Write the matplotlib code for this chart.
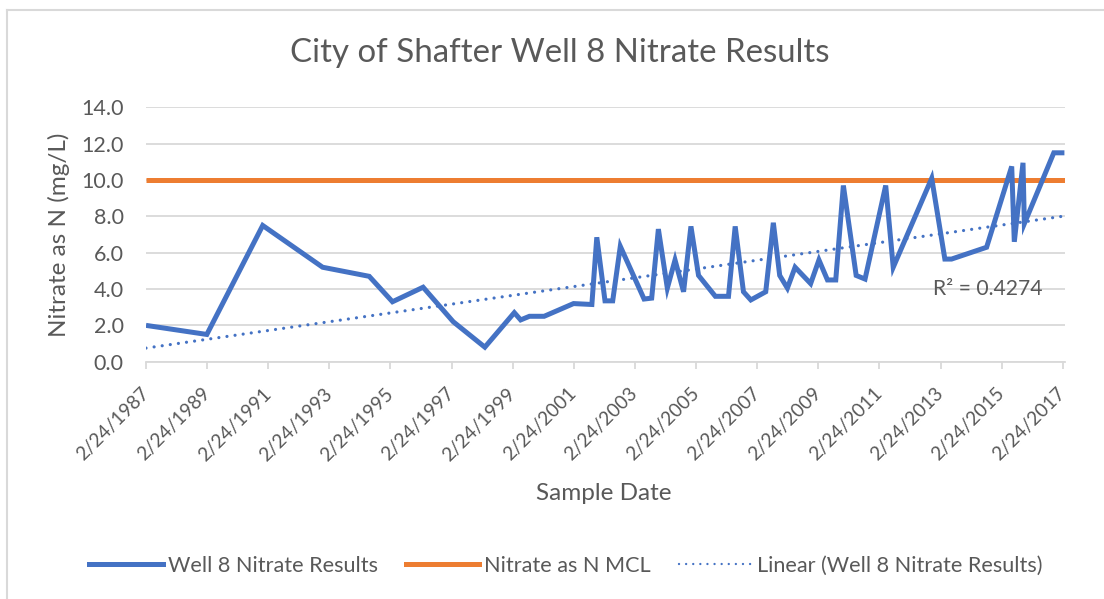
import matplotlib
matplotlib.use("Agg")
import matplotlib.pyplot as plt
import matplotlib.dates as mdates
from matplotlib.lines import Line2D
import numpy as np

plt.rcParams['font.family'] = ['Lato', 'DejaVu Sans']

# ---- data ----
sample_dates = [
    "1987-02-24", "1989-02-20", "1990-12-20", "1992-12-05", "1994-06-15",
    "1995-03-20", "1996-03-20", "1997-03-15", "1998-03-28", "1999-03-15",
    "1999-05-30", "1999-09-12", "2000-03-06", "2001-02-20", "2001-09-27",
    "2001-11-25", "2002-03-03", "2002-06-03", "2002-09-02", "2003-06-13",
    "2003-09-12", "2003-12-01", "2004-03-17", "2004-06-17", "2004-09-27",
    "2004-12-24", "2005-03-25", "2005-10-12", "2006-03-18", "2006-06-06",
    "2006-09-13", "2006-12-10", "2007-06-06", "2007-09-05", "2007-11-20",
    "2008-02-20", "2008-05-22", "2008-11-24", "2009-03-03", "2009-06-13",
    "2009-09-20", "2009-12-20", "2010-05-22", "2010-09-05", "2011-05-10",
    "2011-08-08", "2012-11-10", "2013-04-16", "2013-07-05", "2014-08-28",
    "2015-06-24", "2015-07-25", "2015-11-06", "2015-11-22", "2016-11-08",
    "2017-03-15",
]
nitrate = [
    2.0, 1.5, 7.5, 5.2, 4.7,
    3.3, 4.1, 2.2, 0.8, 2.7,
    2.3, 2.5, 2.5, 3.2, 3.15,
    6.85, 3.35, 3.35, 6.35, 3.45,
    3.5, 7.3, 4.05, 5.6, 3.85,
    7.45, 4.75, 3.6, 3.6, 7.45,
    3.85, 3.4, 3.85, 7.65, 4.75,
    4.05, 5.2, 4.3, 5.6, 4.5,
    4.5, 9.7, 4.75, 4.55, 9.7,
    5.2, 10.1, 5.65, 5.65, 6.3,
    10.75, 6.6, 10.95, 7.6, 11.5,
    11.5,
]
mcl_value = 10.0
# linear trend line as drawn in the chart (end points)
trend_dates = ["1987-02-24", "2017-03-15"]
trend_values = [0.75, 8.02]
r2_label = "R² = 0.4274"
tick_dates = [f"{y}-02-24" for y in range(1987, 2018, 2)]
tick_labels = [f"2/24/{y}" for y in range(1987, 2018, 2)]

title = "City of Shafter Well 8 Nitrate Results"
xlabel = "Sample Date"
ylabel = "Nitrate as N (mg/L)"
legend_labels = ["Well 8 Nitrate Results", "Nitrate as N MCL", "Linear (Well 8 Nitrate Results)"]

# ---- figure ----
W, H = 1104, 599
fig = plt.figure(figsize=(W / 100, H / 100), dpi=100)
L, R, T, B = 146, 1065, 107.4, 361.7
ax = fig.add_axes([L / W, 1 - B / H, (R - L) / W, (B - T) / H])

blue = "#4472C4"
orange = "#ED7D31"
grey_txt = "#595959"
grid_c = "#D9D9D9"

x = mdates.datestr2num(sample_dates)
y = np.array(nitrate)
xmin = mdates.datestr2num("1987-02-24")
xmax = mdates.datestr2num("2017-03-22")

lw = 5.0 * 0.72
ax.plot([xmin, xmax], [mcl_value, mcl_value], color=orange, lw=lw, solid_capstyle='butt', zorder=3)
ax.plot(x, y, color=blue, lw=lw, solid_joinstyle='miter', solid_capstyle='butt', zorder=4)
ax.plot(mdates.datestr2num(trend_dates), trend_values, color=blue, lw=2.3,
        linestyle=(0, (0.01, 2.55)), dash_capstyle='round', zorder=5)

ax.text(mdates.datestr2num("2012-11-20"), 4.0, r2_label, ha='left', va='center',
        fontsize=15.2, color=grey_txt)

ax.set_xlim(xmin, xmax)
ax.set_ylim(0, 14)
ax.set_yticks(np.arange(0, 14.1, 2))
ax.set_yticklabels([f"{v:.1f}" for v in np.arange(0, 14.1, 2)])
ax.set_xticks(mdates.datestr2num(tick_dates))
ax.set_xticklabels(tick_labels, rotation=45, ha='right', va='center', rotation_mode='anchor')

ax.grid(axis='y', color=grid_c, lw=1.3)
ax.set_axisbelow(True)
for s in ['top', 'right', 'left']:
    ax.spines[s].set_visible(False)
ax.spines['bottom'].set_color(grid_c)
ax.spines['bottom'].set_linewidth(1.3)
ax.tick_params(axis='y', length=0, pad=16, labelsize=15.5, labelcolor=grey_txt)
ax.tick_params(axis='x', length=5, width=1.3, color=grid_c, direction='out', pad=16,
               labelsize=13.8, labelcolor=grey_txt)

fig.text(560 / W, 1 - 53 / H, title, ha='center', va='center', fontsize=23.8,
         color=grey_txt)
fig.text(604 / W, 1 - 494 / H, xlabel, ha='center', va='center', fontsize=17.5, color=grey_txt)
fig.text(59 / W, 1 - 235 / H, ylabel, ha='center', va='center', rotation=90,
         fontsize=17.5, color=grey_txt)

handles = [
    Line2D([], [], color=blue, lw=lw),
    Line2D([], [], color=orange, lw=lw),
    Line2D([], [], color=blue, lw=1.7, linestyle=(0, (0.01, 3.0)), dash_capstyle='round'),
]
fig.legend(handles, legend_labels, loc='center', bbox_to_anchor=(566 / W, 1 - 566 / H),
           ncol=3, frameon=False, fontsize=15.6, labelcolor=grey_txt,
           handlelength=3.4, handletextpad=0.22, columnspacing=1.3)

# chart-area border (top and left edges)
fig.add_artist(Line2D([6.5 / W, 6.5 / W], [0, 1 - 9.5 / H], transform=fig.transFigure,
                      color=grid_c, lw=1.5))
fig.add_artist(Line2D([6.5 / W, 1], [1 - 9.5 / H, 1 - 9.5 / H], transform=fig.transFigure,
                      color=grid_c, lw=1.5))

fig.savefig("out.png", dpi=100)
